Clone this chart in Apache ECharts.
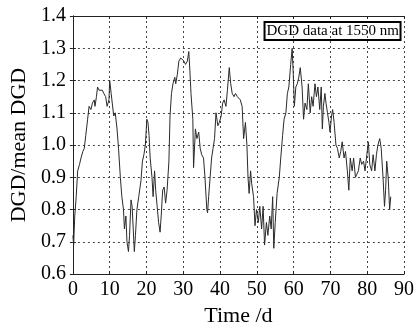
<!DOCTYPE html>
<html>
<head>
<meta charset="utf-8">
<script src="https://cdn.jsdelivr.net/npm/echarts@6/dist/echarts.min.js"></script>
<style>html,body{margin:0;padding:0;background:#fff;}#c{width:419px;height:332px;}</style>
</head>
<body>
<div id="c"></div>
<script>
const times = [0.0,0.2,0.5,0.9,1.3,1.8,2.2,2.7,3.1,3.5,4.0,4.4,4.9,5.3,5.8,6.0,6.4,6.7,7.1,7.5,8.0,8.4,8.9,9.3,9.8,10.0,10.4,10.7,11.1,11.5,12.0,12.4,12.9,13.3,13.75,14.0,14.4,14.7,15.1,15.4,15.8,16.1,16.4,16.7,17.0,17.4,17.9,18.5,18.9,19.3,19.7,20.1,20.4,20.7,21.0,21.5,21.8,22.2,22.5,22.9,23.3,23.7,24.0,24.4,24.8,25.2,25.6,26.1,26.4,26.8,27.2,27.7,27.95,28.4,28.8,29.3,29.7,30.2,30.6,31.1,31.5,31.8,32.1,32.6,32.8,33.3,33.7,34.2,34.6,35.0,35.5,35.9,36.4,36.6,36.9,37.3,37.7,38.1,38.5,38.9,39.4,39.8,40.3,40.7,41.1,41.6,42.0,42.5,42.9,43.3,43.8,44.2,44.7,45.1,45.5,46.0,46.4,46.9,47.3,47.6,47.9,48.3,48.6,49.1,49.5,49.9,50.4,50.8,51.3,51.7,52.1,52.6,53.0,53.5,53.9,54.3,54.6,55.0,55.5,56.1,56.5,57.0,57.4,57.9,58.3,58.7,59.2,59.6,59.9,60.2,60.6,61.0,61.4,61.8,62.3,62.7,63.1,63.6,64.0,64.5,64.9,65.3,65.8,66.2,66.6,67.1,67.5,67.8,68.1,68.5,68.8,69.2,69.6,69.9,70.3,70.6,71.0,71.5,71.9,72.4,72.8,73.2,73.7,74.1,74.6,75.0,75.4,75.9,76.3,76.8,77.2,77.6,78.1,78.5,79.0,79.4,79.9,80.3,80.7,81.2,81.6,82.1,82.5,82.9,83.4,83.8,84.3,84.7,85.0,85.3,85.7,86.1,86.4];
const dgdRatio = [0.72,0.69,0.78,0.84,0.92,0.94,0.96,0.98,0.99,1.03,1.08,1.12,1.11,1.13,1.14,1.12,1.15,1.18,1.17,1.165,1.17,1.16,1.15,1.12,1.14,1.20,1.16,1.13,1.09,1.10,1.05,0.99,0.90,0.84,0.80,0.74,0.78,0.70,0.67,0.72,0.83,0.81,0.74,0.67,0.72,0.80,0.84,0.89,0.95,0.97,1.00,1.08,1.07,1.03,0.96,0.90,0.84,0.92,0.86,0.81,0.76,0.73,0.78,0.86,0.87,0.82,0.86,0.95,1.09,1.16,1.19,1.21,1.19,1.22,1.26,1.27,1.27,1.26,1.25,1.26,1.29,1.23,1.16,1.08,0.93,1.05,1.02,1.04,0.99,0.97,0.96,0.90,0.80,0.79,0.84,0.90,0.96,0.99,1.02,1.10,1.06,1.07,1.09,1.13,1.14,1.12,1.17,1.24,1.19,1.16,1.15,1.16,1.15,1.15,1.14,1.12,1.02,1.07,1.00,0.90,0.85,0.92,0.88,0.84,0.75,0.80,0.76,0.81,0.74,0.81,0.69,0.76,0.72,0.78,0.74,0.84,0.68,0.76,0.85,0.90,0.96,1.03,1.08,1.10,1.16,1.18,1.25,1.30,1.22,1.12,1.18,1.19,1.21,1.24,1.18,1.08,1.13,1.11,1.19,1.10,1.15,1.12,1.19,1.15,1.18,1.11,1.18,1.05,1.12,1.16,1.13,1.10,1.07,1.04,1.09,1.11,1.07,1.00,0.99,0.96,0.98,1.01,0.96,0.98,0.92,0.86,0.96,0.92,0.96,0.90,0.91,0.92,0.96,0.94,0.95,0.92,0.97,1.01,0.94,0.92,0.97,0.92,0.97,1.00,1.02,0.99,0.90,0.81,0.86,0.95,0.90,0.80,0.84];
const legendLabel = 'DGD data at 1550 nm';
const xName = 'Time /d';
const yName = 'DGD/mean DGD';

const serif = '"Liberation Serif", "DejaVu Serif", serif';
const chart = echarts.init(document.getElementById('c'));
const seriesData = times.map((t, i) => [t, dgdRatio[i]]);
const splitStyle = {show: true, lineStyle: {color: '#444', width: 1, type: [2, 3]}};
const frameLine = {show: true, lineStyle: {color: '#222', width: 1}};
chart.setOption({
  animation: false,
  backgroundColor: '#fff',
  title: {
    text: legendLabel,
    right: 18, top: 22,
    borderColor: '#000', borderWidth: 2,
    padding: [2, 2, 1, 2],
    textStyle: {fontFamily: serif, fontSize: 15, fontWeight: 'normal', color: '#000'}
  },
  grid: {left: 63, right: 15, top: 16, bottom: 46},
  xAxis: [{
    type: 'value', min: 0, max: 90, interval: 10,
    name: xName, nameLocation: 'middle', nameGap: 27,
    nameTextStyle: {fontFamily: serif, fontSize: 22, color: '#000', verticalAlign: 'top'},
    axisLine: frameLine,
    axisTick: {show: true, inside: true, length: 3, lineStyle: {color: '#222'}},
    axisLabel: {fontFamily: serif, fontSize: 20, color: '#000', margin: 6},
    splitLine: splitStyle
  }, {
    type: 'value', min: 0, max: 90, interval: 10, position: 'top',
    axisLine: frameLine,
    axisTick: {show: true, inside: true, length: 3, lineStyle: {color: '#222'}},
    axisLabel: {show: false}, splitLine: {show: false}
  }],
  yAxis: [{
    type: 'value', min: 0.6, max: 1.4, interval: 0.1,
    name: yName, nameLocation: 'middle', nameGap: 40,
    nameTextStyle: {fontFamily: serif, fontSize: 22, color: '#000'},
    axisLine: frameLine,
    axisTick: {show: true, inside: true, length: 3, lineStyle: {color: '#222'}},
    axisLabel: {fontFamily: serif, fontSize: 20, color: '#000', margin: 7, formatter: v => v.toFixed(1)},
    splitLine: splitStyle
  }, {
    type: 'value', min: 0.6, max: 1.4, interval: 0.1, position: 'right',
    axisLine: frameLine,
    axisTick: {show: true, inside: true, length: 3, lineStyle: {color: '#222'}},
    axisLabel: {show: false}, splitLine: {show: false}
  }],
  series: [{
    type: 'line', data: seriesData, showSymbol: false, symbol: 'none',
    lineStyle: {color: '#2a2a2a', width: 1}, silent: true
  }]
});
</script>
</body>
</html>
